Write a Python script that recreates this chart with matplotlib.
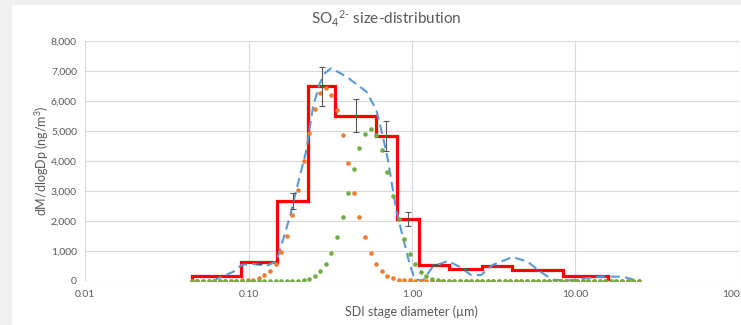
import numpy as np
import matplotlib
matplotlib.use("Agg")
import matplotlib.pyplot as plt
from matplotlib.patches import Rectangle
from matplotlib.ticker import FixedLocator, FixedFormatter, NullLocator

# ---- data ----
stage_edges = [0.045, 0.09, 0.15, 0.23, 0.34, 0.60, 0.81, 1.10, 1.68, 2.69, 4.08, 8.44, 15.9]
stage_conc = [150, 615, 2665, 6500, 5520, 4820, 2065, 525, 390, 500, 358, 157]
stage_err = [0, 50, 280, 650, 560, 500, 230, 40, 30, 40, 30, 0]

inv_d = [0.0605, 0.0806, 0.0906, 0.106, 0.129, 0.148, 0.155, 0.179, 0.196, 0.226, 0.248,
         0.273, 0.295, 0.321, 0.397, 0.526, 0.605, 0.664, 0.713, 0.802, 0.879, 0.966,
         1.04, 1.17, 1.34, 1.66, 1.95, 2.30, 2.65, 3.12, 4.13, 5.11, 6.01, 7.26, 9.18,
         11.6, 14.0, 19.4, 23.4, 25.2]
inv_c = [0, 300, 525, 560, 500, 650, 1000, 2140, 3030, 4370, 5820,
         6600, 6950, 7100, 6820, 6320, 5710, 4820, 4040, 2360, 1470, 580,
         50, 0, 470, 660, 470, 190, 190, 525, 790, 640, 330, 30, 10,
         80, 135, 135, 20, 0]

# diameters of the fitted-mode points (shared by both modes)
mode_d = [0.0449, 0.0486, 0.0526, 0.0569, 0.0615, 0.0666, 0.0720, 0.0779, 0.0843, 0.0912,
          0.0987, 0.1068, 0.1155, 0.1250, 0.1352, 0.1463, 0.1583, 0.1713, 0.1853, 0.2005,
          0.2169, 0.2347, 0.2539, 0.2748, 0.2973, 0.3217, 0.3480, 0.3765, 0.4074, 0.4408,
          0.4770, 0.5161, 0.5584, 0.6041, 0.6537, 0.7072, 0.7652, 0.8279, 0.8958, 0.9692,
          1.0486, 1.1346, 1.2276, 1.3282, 1.4372, 1.5549, 1.6824, 1.8203, 1.9695, 2.1309,
          2.3057, 2.4946, 2.6991, 2.9204, 3.1598, 3.4189, 3.6983, 4.0015, 4.3295, 4.6845,
          5.0685, 5.4828, 5.9333, 6.4195, 6.9455, 7.5148, 8.1310, 8.7976, 9.5167, 10.297,
          11.141, 12.054, 13.042, 14.111, 15.271, 16.520, 17.875, 19.340, 20.925, 22.640,
          24.491]
mode1_c = [0, 0, 0, 0, 0, 0, 0, 0, 0, 10,
           20, 40, 90, 200, 333, 567, 944, 1478, 2189, 3033,
           4000, 4922, 5722, 6256, 6444, 6222, 5700, 4867, 3944, 2944,
           2144, 1444, 922, 556, 311, 167, 89, 33, 22, 10,
           0, 0, 0, 0, 0, 0, 0, 0, 0, 0,
           0, 0, 0, 0, 0, 0, 0, 0, 0, 0,
           0, 0, 0, 0, 0, 0, 0, 0, 0, 0,
           0, 0, 0, 0, 0, 0, 0, 0, 0, 0,
           0]
mode2_c = [0, 0, 0, 0, 0, 0, 0, 0, 0, 0,
           0, 0, 0, 0, 0, 0, 0, 0, 0, 0,
           10, 50, 160, 320, 567, 930, 1470, 2144, 2922, 3722,
           4422, 4900, 5056, 4867, 4367, 3644, 2833, 2056, 1389, 889,
           560, 300, 150, 65, 20, 5, 0, 0, 0, 0,
           0, 0, 0, 0, 0, 0, 0, 0, 0, 0,
           0, 0, 0, 0, 0, 0, 0, 0, 0, 0,
           0, 0, 0, 0, 0, 0, 0, 0, 0, 0,
           0]

x_ticks = [0.01, 0.1, 1, 10, 100]
x_ticklabels = ["0.01", "0.10", "1.00", "10.00", "100.00"]
y_ticks = list(range(0, 8001, 1000))

# ---- style ----
FONT = "Lato"
TXT = "#595959"
plt.rcParams['font.family'] = [FONT, 'DejaVu Sans']
plt.rcParams['mathtext.fontset'] = 'custom'
plt.rcParams['mathtext.rm'] = FONT
plt.rcParams['mathtext.it'] = FONT + ':italic'
plt.rcParams['mathtext.bf'] = FONT + ':bold'

W, H = 741, 325
fig = plt.figure(figsize=(W / 100, H / 100), dpi=100)
fig.patch.set_facecolor("#f0f0f0")
fig.add_artist(Rectangle((12 / W, 0), 1 - 12 / W, (H - 5) / H, transform=fig.transFigure,
                         facecolor="white", edgecolor="none", zorder=-10))

L, R, T, B = 85.3, 738.5, 41.3, 280.7
ax = fig.add_axes([L / W, 1 - B / H, (R - L) / W, (B - T) / H])
ax.set_facecolor("none")
ax.set_xscale("log")
ax.set_xlim(0.01, 100)
ax.set_ylim(0, 8000)

for s in ax.spines.values():
    s.set_visible(False)
ax.xaxis.set_major_locator(FixedLocator(x_ticks))
ax.xaxis.set_major_formatter(FixedFormatter(x_ticklabels))
ax.xaxis.set_minor_locator(NullLocator())
ax.set_yticks(y_ticks)
ax.set_yticklabels([f"{v:,}" for v in y_ticks])
ax.tick_params(length=0, labelsize=7.5, labelcolor=TXT)
ax.tick_params(axis='y', pad=6)
ax.tick_params(axis='x', pad=7)
ax.grid(True, color="#d9d9d9", linewidth=0.8)
ax.set_axisbelow(True)

# red stage histogram
ax.stairs(stage_conc, stage_edges, baseline=0, color="#ff0000", linewidth=2.3, zorder=3)

# inverted distribution
ax.plot(inv_d, inv_c, color="#5b9bd5", linewidth=1.5, linestyle=(0, (4.5, 2.5)), zorder=4)

# fitted modes (markers only)
ax.plot(mode_d, mode1_c, linestyle="none", marker="o", markersize=3.3,
        markeredgewidth=0, color="#ed7d31", zorder=5)
ax.plot(mode_d, mode2_c, linestyle="none", marker="o", markersize=3.3,
        markeredgewidth=0, color="#70ad47", zorder=6)

# error bars
edges = np.array(stage_edges)
mids = np.sqrt(edges[:-1] * edges[1:])
conc = np.array(stage_conc)
err = np.array(stage_err)
m = err > 0
ax.errorbar(mids[m], conc[m], yerr=err[m], fmt="none", ecolor="#595959",
            elinewidth=0.8, capsize=2, capthick=0.8, zorder=7)

# texts
fig.text(386 / W, 1 - 19 / H, r"SO$_\mathregular{4}$$^{\text{2-}}$ size-distribution",
         ha="center", va="center", fontsize=11, color=TXT)
fig.text(411 / W, 1 - 312 / H, "SDI stage diameter (µm)", ha="center", va="center",
         fontsize=9, color=TXT)
fig.text(42 / W, 1 - 161 / H, r"dM/dlogDp (ng/m$^\mathregular{3}$)", ha="center", va="center",
         rotation=90, fontsize=9, color=TXT)

fig.savefig("out.png", dpi=100)
